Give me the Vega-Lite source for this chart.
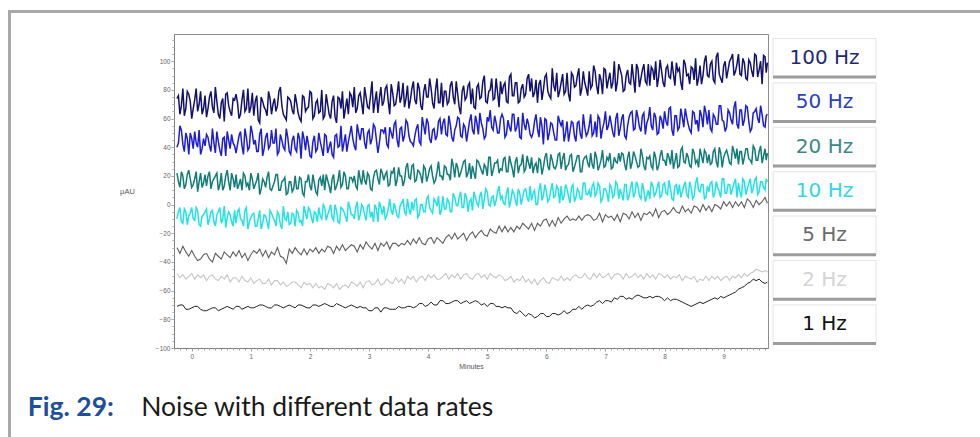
{
"$schema": "https://vega.github.io/schema/vega-lite/v6.json",
"background": "white",
"padding": {"left": 8, "top": 10, "right": 0, "bottom": 0},
"config": {"view": {"stroke": null}, "font": "Liberation Sans", "axis": {"labelFont": "Liberation Sans", "titleFont": "Liberation Sans", "grid": false}},
"datasets": {
"none": [],
"rates": [{"rate": "100 Hz"}, {"rate": "50 Hz"}, {"rate": "20 Hz"}, {"rate": "10 Hz"}, {"rate": "5 Hz"}, {"rate": "2 Hz"}, {"rate": "1 Hz"}],
"noise": [
{"t":-0.25,"a":74,"b":40,"c":22,"d":-10,"e":-30,"f":-48,"g":-71},
{"t":-0.2,"a":63,"b":55,"c":12,"d":-2,"e":-34,"f":-51,"g":-70},
{"t":-0.15,"a":81,"b":42,"c":20,"d":-13,"e":-29,"f":-49,"g":-70},
{"t":-0.1,"a":67,"b":50,"c":14,"d":-5,"e":-33,"f":-52,"g":-73},
{"t":-0.05,"a":77,"b":35,"c":24,"d":-8,"e":-36,"f":-50,"g":-73},
{"t":0,"a":60,"b":46,"c":12,"d":-2,"e":-32,"f":-48,"g":-72},
{"t":0.05,"a":73,"b":51,"c":18,"d":-11,"e":-36,"f":-52,"g":-71},
{"t":0.1,"a":65,"b":40,"c":9,"d":-4,"e":-39,"f":-49,"g":-71},
{"t":0.15,"a":79,"b":35,"c":22,"d":-15,"e":-38,"f":-51,"g":-73},
{"t":0.2,"a":67,"b":46,"c":15,"d":-7,"e":-35,"f":-49,"g":-74},
{"t":0.25,"a":61,"b":49,"c":13,"d":-3,"e":-34,"f":-53,"g":-74},
{"t":0.3,"a":75,"b":41,"c":23,"d":-10,"e":-38,"f":-50,"g":-73},
{"t":0.35,"a":68,"b":53,"c":16,"d":-4,"e":-40,"f":-49,"g":-72},
{"t":0.4,"a":82,"b":36,"c":20,"d":-15,"e":-34,"f":-52,"g":-72},
{"t":0.45,"a":63,"b":44,"c":10,"d":-5,"e":-36,"f":-53,"g":-74},
{"t":0.5,"a":71,"b":34,"c":22,"d":-13,"e":-38,"f":-50,"g":-73},
{"t":0.55,"a":58,"b":47,"c":13,"d":-1,"e":-33,"f":-52,"g":-72},
{"t":0.6,"a":78,"b":51,"c":24,"d":-9,"e":-35,"f":-49,"g":-71},
{"t":0.65,"a":65,"b":39,"c":10,"d":-7,"e":-37,"f":-54,"g":-72},
{"t":0.7,"a":74,"b":43,"c":18,"d":-15,"e":-33,"f":-51,"g":-73},
{"t":0.75,"a":77,"b":36,"c":21,"d":-13,"e":-36,"f":-51,"g":-71},
{"t":0.8,"a":60,"b":48,"c":14,"d":-3,"e":-32,"f":-54,"g":-71},
{"t":0.85,"a":73,"b":41,"c":10,"d":-11,"e":-37,"f":-50,"g":-73},
{"t":0.9,"a":65,"b":53,"c":20,"d":-4,"e":-34,"f":-53,"g":-72},
{"t":0.95,"a":81,"b":38,"c":15,"d":-17,"e":-39,"f":-54,"g":-71},
{"t":1,"a":68,"b":55,"c":22,"d":-9,"e":-35,"f":-51,"g":-72},
{"t":1.05,"a":62,"b":42,"c":11,"d":-6,"e":-32,"f":-55,"g":-72},
{"t":1.1,"a":76,"b":37,"c":17,"d":-15,"e":-34,"f":-53,"g":-71},
{"t":1.15,"a":57,"b":49,"c":7,"d":-4,"e":-31,"f":-52,"g":-70},
{"t":1.2,"a":72,"b":34,"c":18,"d":-13,"e":-36,"f":-55,"g":-70},
{"t":1.25,"a":66,"b":47,"c":12,"d":-8,"e":-32,"f":-55,"g":-71},
{"t":1.3,"a":79,"b":39,"c":23,"d":-17,"e":-37,"f":-52,"g":-72},
{"t":1.35,"a":63,"b":52,"c":10,"d":-6,"e":-33,"f":-56,"g":-72},
{"t":1.4,"a":74,"b":43,"c":16,"d":-11,"e":-35,"f":-53,"g":-70},
{"t":1.45,"a":69,"b":35,"c":21,"d":-5,"e":-30,"f":-53,"g":-70},
{"t":1.5,"a":82,"b":49,"c":10,"d":-14,"e":-36,"f":-56,"g":-71},
{"t":1.55,"a":63,"b":40,"c":17,"d":-1,"e":-37,"f":-54,"g":-72},
{"t":1.6,"a":59,"b":53,"c":7,"d":-11,"e":-41,"f":-57,"g":-71},
{"t":1.65,"a":74,"b":37,"c":16,"d":-14,"e":-31,"f":-56,"g":-70},
{"t":1.7,"a":66,"b":45,"c":9,"d":-6,"e":-34,"f":-54,"g":-71},
{"t":1.75,"a":77,"b":39,"c":20,"d":-15,"e":-30,"f":-54,"g":-72},
{"t":1.8,"a":64,"b":50,"c":11,"d":-6,"e":-33,"f":-56,"g":-70},
{"t":1.85,"a":58,"b":32,"c":18,"d":-11,"e":-35,"f":-58,"g":-70},
{"t":1.9,"a":75,"b":46,"c":6,"d":-1,"e":-31,"f":-54,"g":-71},
{"t":1.95,"a":67,"b":48,"c":16,"d":-10,"e":-35,"f":-56,"g":-72},
{"t":2,"a":79,"b":34,"c":13,"d":-4,"e":-31,"f":-55,"g":-72},
{"t":2.05,"a":60,"b":44,"c":21,"d":-13,"e":-33,"f":-58,"g":-70},
{"t":2.1,"a":71,"b":37,"c":9,"d":-6,"e":-30,"f":-55,"g":-70},
{"t":2.15,"a":64,"b":50,"c":17,"d":-2,"e":-34,"f":-58,"g":-71},
{"t":2.2,"a":80,"b":39,"c":13,"d":-10,"e":-31,"f":-57,"g":-70},
{"t":2.25,"a":62,"b":49,"c":10,"d":-2,"e":-33,"f":-59,"g":-69},
{"t":2.3,"a":70,"b":36,"c":17,"d":-7,"e":-29,"f":-55,"g":-70},
{"t":2.35,"a":60,"b":44,"c":8,"d":0,"e":-30,"f":-56,"g":-71},
{"t":2.4,"a":76,"b":33,"c":21,"d":-11,"e":-34,"f":-58,"g":-71},
{"t":2.45,"a":57,"b":49,"c":13,"d":-4,"e":-29,"f":-55,"g":-69},
{"t":2.5,"a":74,"b":41,"c":24,"d":-13,"e":-32,"f":-59,"g":-70},
{"t":2.55,"a":79,"b":37,"c":14,"d":-3,"e":-28,"f":-57,"g":-71},
{"t":2.6,"a":67,"b":49,"c":20,"d":-8,"e":-32,"f":-56,"g":-72},
{"t":2.65,"a":63,"b":44,"c":11,"d":2,"e":-30,"f":-58,"g":-71},
{"t":2.7,"a":76,"b":55,"c":19,"d":-7,"e":-28,"f":-54,"g":-70},
{"t":2.75,"a":82,"b":41,"c":20,"d":-10,"e":-29,"f":-55,"g":-71},
{"t":2.8,"a":67,"b":56,"c":11,"d":2,"e":-33,"f":-57,"g":-72},
{"t":2.85,"a":78,"b":45,"c":18,"d":-7,"e":-28,"f":-54,"g":-71},
{"t":2.9,"a":63,"b":53,"c":24,"d":-2,"e":-31,"f":-58,"g":-72},
{"t":2.95,"a":75,"b":39,"c":14,"d":-11,"e":-26,"f":-54,"g":-72},
{"t":3,"a":67,"b":52,"c":20,"d":0,"e":-29,"f":-53,"g":-74},
{"t":3.05,"a":86,"b":46,"c":10,"d":-5,"e":-31,"f":-56,"g":-74},
{"t":3.1,"a":72,"b":54,"c":23,"d":0,"e":-27,"f":-55,"g":-72},
{"t":3.15,"a":64,"b":36,"c":18,"d":-12,"e":-32,"f":-52,"g":-72},
{"t":3.2,"a":82,"b":52,"c":25,"d":-2,"e":-27,"f":-56,"g":-75},
{"t":3.25,"a":72,"b":50,"c":17,"d":-1,"e":-29,"f":-55,"g":-72},
{"t":3.3,"a":83,"b":42,"c":23,"d":-8,"e":-26,"f":-52,"g":-72},
{"t":3.35,"a":63,"b":54,"c":14,"d":4,"e":-31,"f":-54,"g":-73},
{"t":3.4,"a":78,"b":46,"c":22,"d":-7,"e":-27,"f":-55,"g":-73},
{"t":3.45,"a":70,"b":58,"c":13,"d":-3,"e":-27,"f":-51,"g":-73},
{"t":3.5,"a":86,"b":40,"c":26,"d":-9,"e":-29,"f":-54,"g":-71},
{"t":3.55,"a":75,"b":54,"c":20,"d":1,"e":-27,"f":-52,"g":-72},
{"t":3.6,"a":68,"b":48,"c":17,"d":-5,"e":-28,"f":-55,"g":-72},
{"t":3.65,"a":83,"b":57,"c":29,"d":4,"e":-25,"f":-50,"g":-71},
{"t":3.7,"a":73,"b":44,"c":18,"d":-7,"e":-28,"f":-52,"g":-71},
{"t":3.75,"a":86,"b":41,"c":28,"d":-4,"e":-24,"f":-50,"g":-72},
{"t":3.8,"a":70,"b":53,"c":17,"d":4,"e":-27,"f":-54,"g":-71},
{"t":3.85,"a":81,"b":44,"c":23,"d":-7,"e":-23,"f":-51,"g":-69},
{"t":3.9,"a":66,"b":61,"c":15,"d":0,"e":-27,"f":-50,"g":-69},
{"t":3.95,"a":84,"b":49,"c":25,"d":-5,"e":-28,"f":-53,"g":-71},
{"t":4,"a":75,"b":57,"c":20,"d":6,"e":-24,"f":-49,"g":-70},
{"t":4.05,"a":81,"b":43,"c":27,"d":-4,"e":-23,"f":-51,"g":-68},
{"t":4.1,"a":67,"b":53,"c":15,"d":4,"e":-27,"f":-49,"g":-70},
{"t":4.15,"a":88,"b":48,"c":23,"d":-1,"e":-23,"f":-52,"g":-70},
{"t":4.2,"a":71,"b":60,"c":20,"d":-7,"e":-25,"f":-52,"g":-67},
{"t":4.25,"a":68,"b":57,"c":17,"d":6,"e":-27,"f":-50,"g":-67},
{"t":4.3,"a":79,"b":49,"c":26,"d":-3,"e":-23,"f":-48,"g":-69},
{"t":4.35,"a":72,"b":62,"c":21,"d":2,"e":-21,"f":-52,"g":-69},
{"t":4.4,"a":86,"b":47,"c":32,"d":-5,"e":-24,"f":-49,"g":-68},
{"t":4.45,"a":70,"b":52,"c":19,"d":5,"e":-20,"f":-51,"g":-67},
{"t":4.5,"a":77,"b":61,"c":26,"d":-1,"e":-24,"f":-48,"g":-67},
{"t":4.55,"a":63,"b":48,"c":22,"d":9,"e":-22,"f":-52,"g":-69},
{"t":4.6,"a":83,"b":56,"c":30,"d":-2,"e":-20,"f":-49,"g":-68},
{"t":4.65,"a":75,"b":44,"c":19,"d":5,"e":-25,"f":-48,"g":-67},
{"t":4.7,"a":85,"b":58,"c":29,"d":2,"e":-21,"f":-51,"g":-69},
{"t":4.75,"a":81,"b":52,"c":27,"d":-4,"e":-19,"f":-52,"g":-68},
{"t":4.8,"a":67,"b":62,"c":18,"d":5,"e":-23,"f":-49,"g":-67},
{"t":4.85,"a":84,"b":49,"c":30,"d":-1,"e":-20,"f":-48,"g":-68},
{"t":4.9,"a":75,"b":57,"c":24,"d":9,"e":-18,"f":-51,"g":-70},
{"t":4.95,"a":90,"b":46,"c":28,"d":4,"e":-21,"f":-49,"g":-69},
{"t":5,"a":71,"b":61,"c":20,"d":9,"e":-22,"f":-52,"g":-71},
{"t":5.05,"a":80,"b":66,"c":33,"d":-1,"e":-17,"f":-48,"g":-69},
{"t":5.1,"a":73,"b":52,"c":24,"d":6,"e":-19,"f":-50,"g":-69},
{"t":5.15,"a":88,"b":57,"c":29,"d":3,"e":-20,"f":-51,"g":-71},
{"t":5.2,"a":68,"b":50,"c":22,"d":13,"e":-15,"f":-49,"g":-71},
{"t":5.25,"a":77,"b":63,"c":24,"d":6,"e":-19,"f":-50,"g":-72},
{"t":5.3,"a":85,"b":47,"c":33,"d":0,"e":-15,"f":-53,"g":-71},
{"t":5.35,"a":71,"b":59,"c":23,"d":12,"e":-19,"f":-52,"g":-72},
{"t":5.4,"a":91,"b":51,"c":29,"d":3,"e":-16,"f":-50,"g":-72},
{"t":5.45,"a":76,"b":63,"c":19,"d":8,"e":-19,"f":-54,"g":-75},
{"t":5.5,"a":85,"b":54,"c":33,"d":-1,"e":-15,"f":-52,"g":-76},
{"t":5.55,"a":72,"b":47,"c":27,"d":8,"e":-17,"f":-53,"g":-74},
{"t":5.6,"a":84,"b":64,"c":35,"d":5,"e":-13,"f":-50,"g":-76},
{"t":5.65,"a":77,"b":52,"c":25,"d":11,"e":-15,"f":-54,"g":-78},
{"t":5.7,"a":91,"b":56,"c":29,"d":2,"e":-17,"f":-52,"g":-76},
{"t":5.75,"a":88,"b":47,"c":33,"d":3,"e":-13,"f":-55,"g":-77},
{"t":5.8,"a":78,"b":58,"c":27,"d":10,"e":-18,"f":-52,"g":-79},
{"t":5.85,"a":71,"b":53,"c":22,"d":0,"e":-13,"f":-56,"g":-78},
{"t":5.9,"a":87,"b":61,"c":31,"d":15,"e":-15,"f":-53,"g":-76},
{"t":5.95,"a":80,"b":42,"c":26,"d":6,"e":-11,"f":-51,"g":-76},
{"t":6,"a":91,"b":59,"c":36,"d":9,"e":-10,"f":-54,"g":-78},
{"t":6.05,"a":76,"b":50,"c":24,"d":4,"e":-15,"f":-55,"g":-78},
{"t":6.1,"a":95,"b":56,"c":31,"d":15,"e":-11,"f":-51,"g":-76},
{"t":6.15,"a":79,"b":45,"c":25,"d":6,"e":-15,"f":-52,"g":-76},
{"t":6.2,"a":75,"b":62,"c":35,"d":11,"e":-9,"f":-53,"g":-77},
{"t":6.25,"a":85,"b":55,"c":25,"d":13,"e":-13,"f":-50,"g":-76},
{"t":6.3,"a":77,"b":44,"c":36,"d":6,"e":-10,"f":-53,"g":-74},
{"t":6.35,"a":92,"b":58,"c":27,"d":11,"e":-8,"f":-51,"g":-76},
{"t":6.4,"a":72,"b":51,"c":34,"d":1,"e":-11,"f":-53,"g":-75},
{"t":6.45,"a":90,"b":57,"c":23,"d":14,"e":-10,"f":-50,"g":-73},
{"t":6.5,"a":83,"b":44,"c":30,"d":5,"e":-11,"f":-49,"g":-73},
{"t":6.55,"a":95,"b":58,"c":34,"d":9,"e":-8,"f":-51,"g":-71},
{"t":6.6,"a":81,"b":46,"c":23,"d":4,"e":-11,"f":-51,"g":-73},
{"t":6.65,"a":85,"b":54,"c":33,"d":15,"e":-8,"f":-48,"g":-71},
{"t":6.7,"a":76,"b":50,"c":29,"d":7,"e":-7,"f":-51,"g":-70},
{"t":6.75,"a":81,"b":63,"c":36,"d":5,"e":-8,"f":-52,"g":-71},
{"t":6.8,"a":97,"b":50,"c":25,"d":15,"e":-11,"f":-48,"g":-70},
{"t":6.85,"a":83,"b":47,"c":33,"d":8,"e":-10,"f":-51,"g":-68},
{"t":6.9,"a":91,"b":60,"c":27,"d":13,"e":-6,"f":-48,"g":-67},
{"t":6.95,"a":77,"b":53,"c":38,"d":4,"e":-12,"f":-51,"g":-69},
{"t":7,"a":94,"b":65,"c":27,"d":11,"e":-7,"f":-50,"g":-67},
{"t":7.05,"a":87,"b":55,"c":31,"d":2,"e":-9,"f":-48,"g":-67},
{"t":7.1,"a":81,"b":56,"c":25,"d":12,"e":-8,"f":-52,"g":-68},
{"t":7.15,"a":100,"b":47,"c":33,"d":7,"e":-11,"f":-49,"g":-65},
{"t":7.2,"a":85,"b":64,"c":29,"d":14,"e":-7,"f":-48,"g":-66},
{"t":7.25,"a":94,"b":53,"c":30,"d":11,"e":-12,"f":-49,"g":-64},
{"t":7.3,"a":79,"b":63,"c":35,"d":3,"e":-6,"f":-52,"g":-64},
{"t":7.35,"a":90,"b":46,"c":24,"d":14,"e":-7,"f":-48,"g":-66},
{"t":7.4,"a":85,"b":61,"c":37,"d":6,"e":-10,"f":-51,"g":-65},
{"t":7.45,"a":98,"b":65,"c":29,"d":16,"e":-5,"f":-50,"g":-66},
{"t":7.5,"a":78,"b":53,"c":34,"d":8,"e":-9,"f":-48,"g":-64},
{"t":7.55,"a":95,"b":61,"c":26,"d":13,"e":-6,"f":-51,"g":-63},
{"t":7.6,"a":88,"b":51,"c":39,"d":4,"e":-11,"f":-49,"g":-64},
{"t":7.65,"a":98,"b":64,"c":27,"d":10,"e":-6,"f":-52,"g":-65},
{"t":7.7,"a":84,"b":57,"c":33,"d":6,"e":-7,"f":-48,"g":-65},
{"t":7.75,"a":83,"b":68,"c":34,"d":4,"e":-5,"f":-51,"g":-64},
{"t":7.8,"a":94,"b":52,"c":25,"d":13,"e":-8,"f":-49,"g":-65},
{"t":7.85,"a":100,"b":61,"c":33,"d":8,"e":-3,"f":-52,"g":-64},
{"t":7.9,"a":89,"b":50,"c":27,"d":16,"e":-9,"f":-48,"g":-64},
{"t":7.95,"a":93,"b":59,"c":38,"d":6,"e":-5,"f":-49,"g":-65},
{"t":8,"a":82,"b":65,"c":31,"d":15,"e":-4,"f":-51,"g":-67},
{"t":8.05,"a":97,"b":55,"c":36,"d":7,"e":-7,"f":-49,"g":-65},
{"t":8.1,"a":88,"b":68,"c":28,"d":11,"e":-5,"f":-52,"g":-67},
{"t":8.15,"a":91,"b":48,"c":25,"d":3,"e":-2,"f":-50,"g":-66},
{"t":8.2,"a":99,"b":62,"c":36,"d":14,"e":-5,"f":-51,"g":-66},
{"t":8.25,"a":95,"b":54,"c":27,"d":14,"e":-6,"f":-49,"g":-67},
{"t":8.3,"a":80,"b":61,"c":40,"d":9,"e":-1,"f":-53,"g":-68},
{"t":8.35,"a":98,"b":67,"c":29,"d":16,"e":-5,"f":-50,"g":-69},
{"t":8.4,"a":91,"b":56,"c":33,"d":5,"e":-3,"f":-51,"g":-70},
{"t":8.45,"a":96,"b":50,"c":26,"d":12,"e":-6,"f":-52,"g":-71},
{"t":8.5,"a":87,"b":64,"c":36,"d":6,"e":-1,"f":-50,"g":-70},
{"t":8.55,"a":83,"b":59,"c":31,"d":19,"e":-2,"f":-54,"g":-69},
{"t":8.6,"a":97,"b":66,"c":39,"d":9,"e":-5,"f":-52,"g":-68},
{"t":8.65,"a":90,"b":54,"c":29,"d":14,"e":0,"f":-53,"g":-69},
{"t":8.7,"a":104,"b":64,"c":36,"d":5,"e":-4,"f":-50,"g":-68},
{"t":8.75,"a":89,"b":66,"c":35,"d":9,"e":-1,"f":-53,"g":-67},
{"t":8.8,"a":100,"b":51,"c":29,"d":16,"e":-5,"f":-50,"g":-66},
{"t":8.85,"a":85,"b":61,"c":39,"d":8,"e":0,"f":-52,"g":-65},
{"t":8.9,"a":106,"b":56,"c":26,"d":12,"e":-1,"f":-50,"g":-66},
{"t":8.95,"a":88,"b":69,"c":36,"d":5,"e":-3,"f":-53,"g":-64},
{"t":9,"a":97,"b":58,"c":33,"d":18,"e":2,"f":-51,"g":-65},
{"t":9.05,"a":88,"b":54,"c":38,"d":8,"e":-1,"f":-50,"g":-64},
{"t":9.1,"a":100,"b":64,"c":29,"d":14,"e":2,"f":-53,"g":-63},
{"t":9.15,"a":105,"b":56,"c":41,"d":11,"e":-2,"f":-50,"g":-62},
{"t":9.2,"a":93,"b":72,"c":32,"d":18,"e":2,"f":-51,"g":-61},
{"t":9.25,"a":105,"b":53,"c":28,"d":15,"e":-1,"f":-49,"g":-59},
{"t":9.3,"a":90,"b":66,"c":37,"d":5,"e":2,"f":-51,"g":-58},
{"t":9.35,"a":99,"b":59,"c":33,"d":16,"e":-2,"f":-48,"g":-57},
{"t":9.4,"a":87,"b":68,"c":39,"d":11,"e":4,"f":-50,"g":-55},
{"t":9.45,"a":99,"b":51,"c":31,"d":18,"e":2,"f":-48,"g":-54},
{"t":9.5,"a":89,"b":64,"c":41,"d":11,"e":-2,"f":-47,"g":-52},
{"t":9.55,"a":104,"b":67,"c":31,"d":19,"e":3,"f":-45,"g":-53},
{"t":9.6,"a":94,"b":57,"c":37,"d":9,"e":0,"f":-46,"g":-52},
{"t":9.65,"a":84,"b":63,"c":29,"d":16,"e":2,"f":-47,"g":-54},
{"t":9.7,"a":103,"b":54,"c":39,"d":10,"e":5,"f":-46,"g":-55},
{"t":9.74,"a":99,"b":63,"c":36,"d":16,"e":1,"f":-47,"g":-54},
{"t":-0.225,"a":76,"b":43,"c":16,"d":-5},{"t":-0.175,"a":69,"b":52,"c":23,"d":-12},{"t":-0.125,"a":62,"b":37,"c":11,"d":-3},{"t":-0.075,"a":79,"b":46,"c":21,"d":-14},{"t":-0.025,"a":72,"b":50,"c":18,"d":-6},
{"t":0.025,"a":67,"b":39,"c":14,"d":-10},{"t":0.075,"a":81,"b":43,"c":23,"d":-2},{"t":0.125,"a":70,"b":52,"c":16,"d":-14},{"t":0.175,"a":63,"b":39,"c":12,"d":-8},{"t":0.225,"a":76,"b":41,"c":21,"d":-5},
{"t":0.275,"a":67,"b":47,"c":20,"d":-14},{"t":0.325,"a":79,"b":37,"c":11,"d":-5},{"t":0.375,"a":64,"b":43,"c":18,"d":-12},{"t":0.425,"a":72,"b":51,"c":22,"d":-7},{"t":0.475,"a":60,"b":38,"c":14,"d":-2},
{"t":0.525,"a":74,"b":46,"c":10,"d":-10},{"t":0.575,"a":77,"b":34,"c":20,"d":-16},{"t":0.625,"a":69,"b":45,"c":16,"d":-5},{"t":0.675,"a":62,"b":49,"c":22,"d":-12},{"t":0.725,"a":73,"b":41,"c":12,"d":-4},
{"t":0.775,"a":71,"b":42,"c":11,"d":-5},{"t":0.825,"a":63,"b":51,"c":18,"d":-10},{"t":0.875,"a":80,"b":35,"c":22,"d":-15},{"t":0.925,"a":67,"b":47,"c":13,"d":-2},{"t":0.975,"a":64,"b":40,"c":10,"d":-12},
{"t":1.025,"a":78,"b":50,"c":18,"d":-7},{"t":1.075,"a":72,"b":45,"c":14,"d":-15},{"t":1.125,"a":59,"b":37,"c":22,"d":-10},{"t":1.175,"a":75,"b":53,"c":11,"d":-17},{"t":1.225,"a":68,"b":39,"c":16,"d":-7},
{"t":1.275,"a":62,"b":50,"c":19,"d":-12},{"t":1.325,"a":74,"b":41,"c":11,"d":-4},{"t":1.375,"a":70,"b":43,"c":13,"d":-9},{"t":1.425,"a":65,"b":53,"c":21,"d":-15},{"t":1.475,"a":79,"b":37,"c":10,"d":-7},
{"t":1.525,"a":69,"b":45,"c":16,"d":-17},{"t":1.575,"a":61,"b":38,"c":19,"d":-10},{"t":1.625,"a":75,"b":47,"c":8,"d":-5},{"t":1.675,"a":72,"b":35,"c":16,"d":-13},{"t":1.725,"a":63,"b":48,"c":11,"d":-7},
{"t":1.775,"a":71,"b":37,"c":11,"d":-4},{"t":1.825,"a":60,"b":46,"c":19,"d":-12},{"t":1.875,"a":76,"b":51,"c":8,"d":-15},{"t":1.925,"a":65,"b":38,"c":16,"d":-6},{"t":1.975,"a":68,"b":42,"c":21,"d":-2},
{"t":2.025,"a":78,"b":33,"c":10,"d":-9},{"t":2.075,"a":62,"b":48,"c":15,"d":-5},{"t":2.125,"a":73,"b":39,"c":7,"d":-12},{"t":2.175,"a":65,"b":44,"c":19,"d":-8},{"t":2.225,"a":60,"b":34,"c":21,"d":0},
{"t":2.275,"a":77,"b":48,"c":21,"d":-11},{"t":2.325,"a":63,"b":40,"c":13,"d":-4},{"t":2.375,"a":72,"b":35,"c":18,"d":-9},{"t":2.425,"a":61,"b":48,"c":10,"d":0},{"t":2.475,"a":75,"b":40,"c":17,"d":-12},
{"t":2.525,"a":67,"b":55,"c":12,"d":-2},{"t":2.575,"a":60,"b":43,"c":23,"d":-5},{"t":2.625,"a":74,"b":37,"c":11,"d":-12},{"t":2.675,"a":78,"b":49,"c":19,"d":-2},{"t":2.725,"a":68,"b":46,"c":16,"d":-7},
{"t":2.775,"a":64,"b":38,"c":13,"d":-2},{"t":2.825,"a":76,"b":50,"c":24,"d":-11},{"t":2.875,"a":71,"b":53,"c":14,"d":0},{"t":2.925,"a":82,"b":43,"c":17,"d":-7},{"t":2.975,"a":68,"b":50,"c":22,"d":-1},
{"t":3.025,"a":76,"b":42,"c":11,"d":-9},{"t":3.075,"a":64,"b":56,"c":19,"d":-12},{"t":3.125,"a":79,"b":45,"c":24,"d":-3},{"t":3.175,"a":74,"b":43,"c":14,"d":2},{"t":3.225,"a":69,"b":52,"c":22,"d":-7},
{"t":3.275,"a":81,"b":54,"c":21,"d":-10},{"t":3.325,"a":72,"b":40,"c":13,"d":-3},{"t":3.375,"a":84,"b":50,"c":23,"d":-4},{"t":3.425,"a":69,"b":56,"c":26,"d":1},{"t":3.475,"a":77,"b":45,"c":17,"d":-8},
{"t":3.525,"a":71,"b":53,"c":20,"d":-1},{"t":3.575,"a":85,"b":44,"c":13,"d":4},{"t":3.625,"a":74,"b":59,"c":26,"d":-7},{"t":3.675,"a":67,"b":48,"c":19,"d":-3},{"t":3.725,"a":81,"b":43,"c":27,"d":2},
{"t":3.775,"a":73,"b":48,"c":16,"d":3},{"t":3.825,"a":85,"b":56,"c":24,"d":-9},{"t":3.875,"a":69,"b":42,"c":20,"d":0},{"t":3.925,"a":79,"b":55,"c":27,"d":-5},{"t":3.975,"a":75,"b":60,"c":16,"d":4},
{"t":4.025,"a":88,"b":46,"c":25,"d":-2},{"t":4.075,"a":71,"b":52,"c":20,"d":-6},{"t":4.125,"a":80,"b":45,"c":17,"d":2},{"t":4.175,"a":71,"b":58,"c":30,"d":6},{"t":4.225,"a":85,"b":49,"c":20,"d":-4},
{"t":4.275,"a":79,"b":60,"c":27,"d":-3},{"t":4.325,"a":70,"b":48,"c":21,"d":4},{"t":4.375,"a":83,"b":56,"c":17,"d":-5},{"t":4.425,"a":75,"b":44,"c":27,"d":8},{"t":4.475,"a":86,"b":55,"c":29,"d":0},
{"t":4.525,"a":68,"b":60,"c":19,"d":5},{"t":4.575,"a":79,"b":47,"c":26,"d":-2},{"t":4.625,"a":73,"b":54,"c":31,"d":8},{"t":4.675,"a":83,"b":51,"c":22,"d":-5},{"t":4.725,"a":70,"b":63,"c":18,"d":4},
{"t":4.775,"a":68,"b":49,"c":22,"d":9},{"t":4.825,"a":82,"b":57,"c":31,"d":1},{"t":4.875,"a":74,"b":64,"c":27,"d":6},{"t":4.925,"a":86,"b":53,"c":21,"d":-3},{"t":4.975,"a":72,"b":48,"c":26,"d":11},
{"t":5.025,"a":79,"b":58,"c":33,"d":0},{"t":5.075,"a":88,"b":54,"c":20,"d":5},{"t":5.125,"a":74,"b":62,"c":29,"d":-1},{"t":5.175,"a":78,"b":50,"c":31,"d":9},{"t":5.225,"a":86,"b":60,"c":25,"d":4},
{"t":5.275,"a":83,"b":60,"c":32,"d":1},{"t":5.325,"a":72,"b":49,"c":23,"d":8},{"t":5.375,"a":89,"b":54,"c":34,"d":-2},{"t":5.425,"a":76,"b":63,"c":25,"d":10},{"t":5.475,"a":85,"b":51,"c":30,"d":3},
{"t":5.525,"a":71,"b":61,"c":22,"d":11},{"t":5.575,"a":81,"b":46,"c":28,"d":0},{"t":5.625,"a":75,"b":56,"c":23,"d":10},{"t":5.675,"a":88,"b":60,"c":34,"d":5},{"t":5.725,"a":79,"b":49,"c":25,"d":13},
{"t":5.775,"a":75,"b":50,"c":22,"d":8},{"t":5.825,"a":87,"b":63,"c":29,"d":0},{"t":5.875,"a":84,"b":47,"c":32,"d":10},{"t":5.925,"a":73,"b":55,"c":21,"d":3},{"t":5.975,"a":89,"b":60,"c":33,"d":14},
{"t":6.025,"a":79,"b":45,"c":27,"d":2},{"t":6.075,"a":74,"b":57,"c":35,"d":10},{"t":6.125,"a":83,"b":50,"c":26,"d":5},{"t":6.175,"a":92,"b":45,"c":28,"d":13},{"t":6.225,"a":79,"b":58,"c":36,"d":1},
{"t":6.275,"a":91,"b":59,"c":32,"d":3},{"t":6.325,"a":79,"b":50,"c":24,"d":14},{"t":6.375,"a":77,"b":44,"c":28,"d":6},{"t":6.425,"a":92,"b":58,"c":35,"d":12},{"t":6.475,"a":82,"b":48,"c":26,"d":2},
{"t":6.525,"a":90,"b":57,"c":34,"d":11},{"t":6.575,"a":76,"b":49,"c":23,"d":4},{"t":6.625,"a":93,"b":63,"c":31,"d":15},{"t":6.675,"a":81,"b":48,"c":34,"d":7},{"t":6.725,"a":93,"b":55,"c":26,"d":10},
{"t":6.775,"a":83,"b":48,"c":28,"d":13},{"t":6.825,"a":93,"b":58,"c":37,"d":6},{"t":6.875,"a":77,"b":62,"c":24,"d":15},{"t":6.925,"a":87,"b":46,"c":31,"d":2},{"t":6.975,"a":95,"b":57,"c":26,"d":11},
{"t":7.025,"a":81,"b":52,"c":33,"d":8},{"t":7.075,"a":92,"b":62,"c":36,"d":14},{"t":7.125,"a":85,"b":50,"c":26,"d":5},{"t":7.175,"a":79,"b":60,"c":30,"d":16},{"t":7.225,"a":98,"b":48,"c":36,"d":4},
{"t":7.275,"a":90,"b":60,"c":36,"d":7},{"t":7.325,"a":80,"b":48,"c":28,"d":14},{"t":7.375,"a":94,"b":55,"c":33,"d":3},{"t":7.425,"a":84,"b":64,"c":25,"d":12},{"t":7.475,"a":88,"b":52,"c":37,"d":5},
{"t":7.525,"a":98,"b":66,"c":30,"d":16},{"t":7.575,"a":82,"b":54,"c":27,"d":6},{"t":7.625,"a":94,"b":62,"c":34,"d":15},{"t":7.675,"a":86,"b":49,"c":24,"d":2},{"t":7.725,"a":98,"b":60,"c":32,"d":10},
{"t":7.775,"a":96,"b":55,"c":27,"d":16},{"t":7.825,"a":87,"b":64,"c":37,"d":6},{"t":7.875,"a":82,"b":49,"c":24,"d":12},{"t":7.925,"a":101,"b":62,"c":34,"d":5},{"t":7.975,"a":85,"b":53,"c":31,"d":14},
{"t":8.025,"a":95,"b":58,"c":27,"d":8},{"t":8.075,"a":89,"b":67,"c":33,"d":17},{"t":8.125,"a":100,"b":52,"c":38,"d":4},{"t":8.175,"a":83,"b":62,"c":30,"d":13},{"t":8.225,"a":93,"b":52,"c":26,"d":7},
{"t":8.275,"a":85,"b":67,"c":38,"d":5},{"t":8.325,"a":101,"b":54,"c":30,"d":13},{"t":8.375,"a":90,"b":61,"c":36,"d":7},{"t":8.425,"a":84,"b":52,"c":27,"d":16},{"t":8.475,"a":95,"b":65,"c":39,"d":4},
{"t":8.525,"a":102,"b":56,"c":29,"d":15},{"t":8.575,"a":88,"b":51,"c":26,"d":10},{"t":8.625,"a":84,"b":62,"c":34,"d":14},{"t":8.675,"a":100,"b":69,"c":38,"d":4},{"t":8.725,"a":90,"b":56,"c":29,"d":13},
{"t":8.775,"a":98,"b":53,"c":28,"d":15},{"t":8.825,"a":87,"b":63,"c":37,"d":5},{"t":8.875,"a":103,"b":56,"c":30,"d":16},{"t":8.925,"a":91,"b":69,"c":40,"d":9},{"t":8.975,"a":85,"b":59,"c":26,"d":18},
{"t":9.025,"a":100,"b":51,"c":36,"d":8},{"t":9.075,"a":94,"b":66,"c":34,"d":14},{"t":9.125,"a":102,"b":59,"c":28,"d":7},{"t":9.175,"a":90,"b":68,"c":37,"d":15},{"t":9.225,"a":98,"b":56,"c":39,"d":5},
{"t":9.275,"a":91,"b":66,"c":37,"d":9},{"t":9.325,"a":102,"b":55,"c":28,"d":18},{"t":9.375,"a":88,"b":69,"c":39,"d":7},{"t":9.425,"a":101,"b":58,"c":32,"d":15},{"t":9.475,"a":93,"b":53,"c":29,"d":8},
{"t":9.525,"a":105,"b":65,"c":39,"d":17},{"t":9.575,"a":89,"b":60,"c":31,"d":7},{"t":9.625,"a":100,"b":69,"c":41,"d":16},{"t":9.675,"a":104,"b":55,"c":34,"d":12},{"t":9.72,"a":92,"b":62,"c":31,"d":18}
]
},
"columns": 2,
"align": "none",
"spacing": 0,
"concat": [
{
"data": {"name": "none"},
"width": 1, "height": 427,
"view": {"stroke": "#a9a9a9", "strokeWidth": 2},
"mark": "point",
"encoding": {}
},
{
"columns": 1,
"align": "none",
"spacing": 20,
"concat": [
{
"data": {"name": "none"},
"width": 970, "height": 1,
"view": {"stroke": "#a9a9a9", "strokeWidth": 2},
"mark": "point",
"encoding": {}
},
{
"spacing": 0,
"resolve": {"scale": {"color": "independent", "strokeWidth": "independent"}},
"hconcat": [
{
"data": {"name": "none"},
"width": 107, "height": 314,
"mark": "point",
"encoding": {}
},
{
"width": 594, "height": 314,
"view": {"stroke": "#8c8c8c", "strokeWidth": 1},
"resolve": {"axis": {"x": "independent", "y": "independent"}},
"layer": [
{
"data": {"name": "noise"},
"transform": [{"fold": ["a", "b", "c", "d", "e", "f", "g"], "as": ["k", "v"]}, {"filter": "isValid(datum.v)"}],
"mark": {"type": "line"},
"encoding": {
"x": {"field": "t", "type": "quantitative", "scale": {"domain": [-0.3, 9.75], "nice": false, "zero": false},
"axis": {"orient": "bottom", "values": [0, 1, 2, 3, 4, 5, 6, 7, 8, 9], "title": "Minutes", "titleFontSize": 7, "titleFontWeight": "normal", "titleColor": "#555555", "titlePadding": 3, "labelFontSize": 6.5, "labelColor": "#666666", "labelPadding": 2, "tickSize": 3, "tickColor": "#999999", "domainColor": "#808080"}},
"y": {"field": "v", "type": "quantitative", "scale": {"domain": [-100, 119], "nice": false, "zero": false},
"axis": {"orient": "left", "values": [-100, -80, -60, -40, -20, 0, 20, 40, 60, 80, 100], "title": "µAU", "titleAngle": 0, "titleAlign": "right", "titleBaseline": "middle", "titlePadding": 21, "titleFontSize": 7.5, "titleFontWeight": "normal", "titleColor": "#555555", "labelFontSize": 6.5, "labelColor": "#666666", "labelPadding": 1, "tickSize": 3, "tickColor": "#999999", "domainColor": "#808080"}},
"color": {"field": "k", "type": "nominal", "scale": {"domain": ["a", "b", "c", "d", "e", "f", "g"], "range": ["#12126e", "#1c1cd4", "#127c79", "#22e2e2", "#5e5e5e", "#c6c6c6", "#1e1e1e"]}, "legend": null},
"strokeWidth": {"field": "k", "type": "nominal", "scale": {"type": "ordinal", "domain": ["a", "b", "c", "d", "e", "f", "g"], "range": [1.5, 1.5, 1.5, 1.5, 1.1, 1.1, 1]}, "legend": null}
}
},
{
"data": {"name": "none"},
"mark": {"type": "rule", "opacity": 0},
"encoding": {
"x": {"datum": 0, "type": "quantitative", "axis": {"orient": "bottom", "tickCount": 100, "labels": false, "domain": false, "tickSize": 2, "tickColor": "#aaaaaa", "title": null}},
"y": {"datum": 0, "type": "quantitative", "axis": {"orient": "left", "tickCount": 44, "labels": false, "domain": false, "tickSize": 2, "tickColor": "#aaaaaa", "title": null}}
}
}
]
},
{
"data": {"name": "rates"},
"width": 103, "height": 314,
"encoding": {
"y": {"field": "rate", "type": "nominal", "sort": null, "scale": {"type": "band", "paddingInner": 0.13, "paddingOuter": 0.1}, "axis": null}
},
"layer": [
{"mark": {"type": "rect", "fill": "white", "stroke": "#e4e4e4", "strokeWidth": 1}},
{"mark": {"type": "rule", "color": "#9c9c9c", "strokeWidth": 3},
"encoding": {"y": {"field": "rate", "type": "nominal", "sort": null, "bandPosition": 1}}},
{"mark": {"type": "text", "font": "DejaVu Sans", "fontSize": 20},
"encoding": {
"text": {"field": "rate"},
"color": {"field": "rate", "type": "nominal", "sort": null, "scale": {"domain": ["100 Hz", "50 Hz", "20 Hz", "10 Hz", "5 Hz", "2 Hz", "1 Hz"], "range": ["#1f2a6e", "#2b40c0", "#3b8884", "#2ed8e2", "#6a6a6a", "#d4d4d4", "#111111"]}, "legend": null}
}}
]
}
]
},
{
"width": 145, "height": 36,
"encoding": {
"x": {"field": "part", "type": "nominal", "scale": {"type": "point", "domain": ["Fig. 29:", "Noise with different data rates"], "padding": 0.14}, "axis": null},
"text": {"field": "part"}
},
"layer": [
{"data": {"values": [{"part": "Fig. 29:"}]},
"mark": {"type": "text", "align": "left", "baseline": "alphabetic", "dy": 8, "font": "Lato", "fontSize": 26.5, "fontWeight": "bold", "color": "#1d4f9b"}},
{"data": {"values": [{"part": "Noise with different data rates"}]},
"mark": {"type": "text", "align": "left", "baseline": "alphabetic", "dy": 8, "font": "Lato", "fontSize": 26.5, "fontWeight": "normal", "color": "#1a1a1a"}}
]
}
]
}
]
}
